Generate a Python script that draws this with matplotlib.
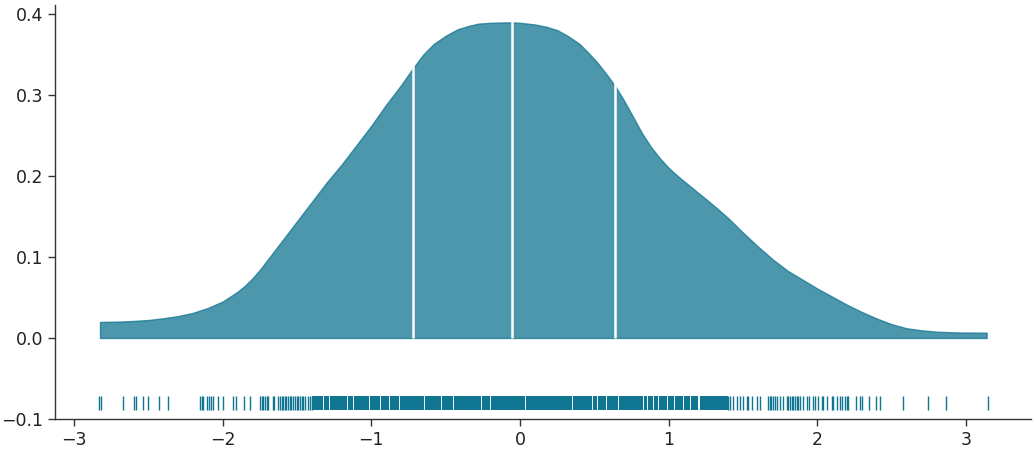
import matplotlib
matplotlib.use("Agg")
import matplotlib.pyplot as plt
import numpy as np

# KDE curve (x, density)
kde_x = [-2.825, -2.70, -2.60, -2.50, -2.40, -2.30, -2.20, -2.10, -2.00, -1.95,
         -1.90, -1.85, -1.80, -1.75, -1.70, -1.65, -1.60, -1.50, -1.40, -1.30, -1.20,
         -1.10, -1.00, -0.90, -0.80, -0.72, -0.65, -0.58, -0.50, -0.42, -0.35,
         -0.28, -0.20, -0.10, -0.05, 0.00, 0.10, 0.18, 0.25, 0.32, 0.40,
         0.46, 0.52, 0.58, 0.64, 0.70, 0.76, 0.82, 0.88, 0.94, 1.00,
         1.06, 1.12, 1.20, 1.30, 1.40, 1.50, 1.60, 1.70, 1.80, 1.90,
         2.00, 2.10, 2.20, 2.30, 2.40, 2.50, 2.60, 2.70, 2.80, 2.95, 3.139]
kde_y = [0.0198, 0.0202, 0.0210, 0.0222, 0.0243, 0.0270, 0.0310, 0.0370, 0.0450, 0.0510,
         0.0570, 0.0645, 0.0735, 0.0840, 0.0960, 0.108, 0.120, 0.144, 0.168, 0.192, 0.214,
         0.238, 0.262, 0.288, 0.312, 0.333, 0.350, 0.363, 0.373, 0.381, 0.385,
         0.388, 0.389, 0.3895, 0.3895, 0.389, 0.387, 0.384, 0.380, 0.373, 0.363,
         0.352, 0.340, 0.326, 0.311, 0.293, 0.273, 0.253, 0.236, 0.222, 0.210,
         0.200, 0.191, 0.179, 0.164, 0.148, 0.130, 0.113, 0.097, 0.083, 0.072,
         0.061, 0.051, 0.041, 0.032, 0.024, 0.017, 0.012, 0.0095, 0.0078, 0.0068, 0.0065]

# quantile cut lines (position, height)
quant_x = [-0.718, -0.053, 0.638]
quant_h = [0.336, 0.390, 0.312]

# rug ticks, sparse tails
rug_sparse = [-2.830, -2.818, -2.668, -2.594, -2.581, -2.534, -2.500, -2.426, -2.366,
              -2.152, -2.141, -2.130, -2.103, -2.092, -2.078, -2.063, -2.029, -1.996,
              -1.929, -1.910, -1.857, -1.816, -1.749, -1.737, -1.727, -1.715, -1.704,
              -1.693, -1.663, -1.655,
              -1.628, -1.615, -1.604, -1.592, -1.580, -1.571, -1.560, -1.548, -1.537,
              -1.525, -1.514, -1.502, -1.490, -1.478, -1.468, -1.457, -1.446, -1.424,
              -1.413, -1.402,
              1.401, 1.412, 1.435, 1.458, 1.480, 1.502, 1.525, 1.536, 1.558, 1.592,
              1.614, 1.668, 1.680, 1.691, 1.702, 1.715, 1.731, 1.749, 1.771, 1.794,
              1.805, 1.816, 1.827, 1.838, 1.849, 1.860, 1.871, 1.883, 1.905, 1.928,
              1.946, 1.973, 1.984, 2.006, 2.029, 2.040, 2.063, 2.097, 2.107, 2.130,
              2.152, 2.164, 2.186, 2.197, 2.208, 2.260, 2.287, 2.298, 2.349, 2.394,
              2.421, 2.578, 2.742, 2.865, 3.146]

# rug ticks, packed middle
rug_dense = [-1.39, -1.38, -1.37, -1.36, -1.35, -1.34, -1.33, -1.31, -1.30, -1.29,
             -1.27, -1.26, -1.25, -1.24, -1.23, -1.22, -1.21, -1.20, -1.19, -1.18,
             -1.17, -1.15, -1.14, -1.13, -1.11, -1.10, -1.09, -1.08, -1.07, -1.06,
             -1.05, -1.04, -1.03, -1.02, -1.00, -0.99, -0.98, -0.97, -0.96, -0.95,
             -0.93, -0.92, -0.91, -0.90, -0.89, -0.87, -0.86, -0.85, -0.84, -0.83,
             -0.82, -0.80, -0.79, -0.78, -0.77, -0.76, -0.75, -0.74, -0.73, -0.72,
             -0.71, -0.70, -0.69, -0.68, -0.67, -0.66, -0.65, -0.63, -0.62, -0.61,
             -0.60, -0.59, -0.58, -0.57, -0.56, -0.55, -0.54, -0.52, -0.51, -0.50,
             -0.49, -0.48, -0.47, -0.46, -0.44, -0.43, -0.42, -0.41, -0.40, -0.39,
             -0.38, -0.37, -0.36, -0.35, -0.34, -0.33, -0.32, -0.31, -0.30, -0.29,
             -0.28, -0.27, -0.25, -0.24, -0.23, -0.22, -0.21, -0.19, -0.18, -0.17,
             -0.16, -0.15, -0.14, -0.13, -0.12, -0.11, -0.10, -0.09, -0.08, -0.07,
             -0.06, -0.05, -0.04, -0.03, -0.02, -0.01, 0.00, 0.01, 0.02, 0.03,
             0.05, 0.06, 0.07, 0.08, 0.09, 0.10, 0.11, 0.12, 0.13, 0.14,
             0.15, 0.16, 0.17, 0.18, 0.19, 0.20, 0.21, 0.22, 0.23, 0.24,
             0.25, 0.26, 0.27, 0.28, 0.29, 0.30, 0.31, 0.32, 0.33, 0.34,
             0.36, 0.37, 0.38, 0.39, 0.40, 0.41, 0.42, 0.43, 0.44, 0.45,
             0.46, 0.47, 0.48, 0.50, 0.51, 0.53, 0.54, 0.55, 0.56, 0.57,
             0.59, 0.60, 0.61, 0.62, 0.63, 0.64, 0.65, 0.67, 0.68, 0.69,
             0.70, 0.71, 0.72, 0.73, 0.74, 0.75, 0.76, 0.77, 0.78, 0.79,
             0.80, 0.81, 0.82, 0.84, 0.85, 0.87, 0.88, 0.89, 0.91, 0.92,
             0.94, 0.95, 0.96, 0.97, 0.98, 1.00, 1.01, 1.02, 1.03, 1.05,
             1.06, 1.07, 1.08, 1.09, 1.11, 1.12, 1.13, 1.14, 1.16, 1.17,
             1.18, 1.19, 1.22, 1.23, 1.24, 1.25, 1.26, 1.27, 1.28, 1.29,
             1.30, 1.31, 1.32, 1.33, 1.34, 1.35, 1.36, 1.37, 1.38, 1.39]

color = "#107591"

fig = plt.figure(figsize=(10.35, 4.5), dpi=100)
ax = fig.add_axes([0.0531, 0.0689, 0.943, 0.9200])

ax.fill_between(kde_x, kde_y, 0, color=color, alpha=0.75, linewidth=1)
ax.vlines(quant_x, 0, np.array(quant_h) + 0.003, color="white", linewidth=1.8)
ax.vlines(rug_sparse, -0.0887, -0.0715, color=color, linewidth=1)
ax.vlines(rug_dense, -0.0887, -0.0715, color=color, linewidth=1.5)

ax.set_xlim(-3.128, 3.437)
ax.set_ylim(-0.1, 0.411)
ax.set_xticks([-3, -2, -1, 0, 1, 2, 3])
ax.set_yticks([-0.1, 0.0, 0.1, 0.2, 0.3, 0.4])
ax.set_yticklabels(["\u22120.1", "0.0", "0.1", "0.2", "0.3", "0.4"])

for side in ["top", "right"]:
    ax.spines[side].set_visible(False)
for side in ["left", "bottom"]:
    ax.spines[side].set_color("#333333")
    ax.spines[side].set_linewidth(1)
ax.tick_params(labelsize=12.5, colors="#333333", length=5, width=1)
for lab in ax.get_xticklabels() + ax.get_yticklabels():
    lab.set_color("#222222")

fig.savefig("out.png", dpi=100)
